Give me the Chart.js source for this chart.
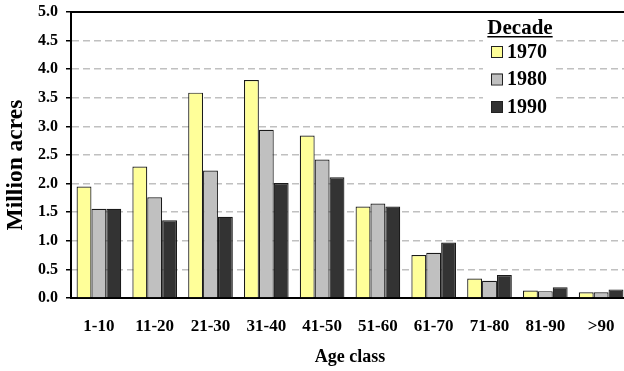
<!DOCTYPE html>
<html>
<head>
<meta charset="utf-8">
<script src="https://cdn.jsdelivr.net/npm/chart.js@4"></script>
<style>
  html, body { margin: 0; padding: 0; background: #fff; overflow: hidden; }
  #wrap { width: 632px; height: 371px; position: relative; }
</style>
</head>
<body>
<div id="wrap"><canvas id="c"></canvas></div>
<script>
const ageClasses = ['1-10', '11-20', '21-30', '31-40', '41-50', '51-60', '61-70', '71-80', '81-90', '>90'];
const decades = ['1970', '1980', '1990'];
const acres1970 = [1.95, 2.30, 3.59, 3.81, 2.84, 1.60, 0.75, 0.34, 0.13, 0.10];
const acres1980 = [1.56, 1.76, 2.23, 2.94, 2.42, 1.65, 0.79, 0.30, 0.12, 0.10];
const acres1990 = [1.56, 1.36, 1.42, 2.01, 2.11, 1.60, 0.97, 0.40, 0.19, 0.15];
const fills = ['#FFFF99', '#C0C0C0', '#333333'];
const yTitle = 'Million acres';

const serif = '"Liberation Serif", "Times New Roman", serif';

// Vertical axis title, boxed "Decade" legend and solid top border of the plot
const decorations = {
  id: 'decorations',
  afterDatasetsDraw(chart) {
    const { ctx, chartArea } = chart;
    ctx.save();

    // vertical axis title
    ctx.save();
    ctx.translate(16, 165);
    ctx.rotate(-Math.PI / 2);
    ctx.fillStyle = '#000';
    ctx.font = 'bold 23.5px ' + serif;
    ctx.textAlign = 'center';
    ctx.textBaseline = 'middle';
    ctx.fillText(yTitle, 0, 0);
    ctx.restore();

    // legend
    const lx = 483, ly = 16;
    ctx.fillStyle = '#fff';
    ctx.fillRect(lx, ly, 71, 100);
    ctx.fillStyle = '#000';
    ctx.font = 'bold 21px ' + serif;
    ctx.textBaseline = 'alphabetic';
    ctx.textAlign = 'left';
    const title = 'Decade';
    const tw = ctx.measureText(title).width;
    const tx = 520 - tw / 2;
    ctx.fillText(title, tx, 34);
    ctx.fillRect(tx, 36, tw, 1.5);
    ctx.font = 'bold 20px ' + serif;
    chart.data.datasets.forEach((ds, i) => {
      const cy = 51.5 + i * 27.5;
      ctx.fillStyle = ds.backgroundColor;
      ctx.fillRect(491, cy - 5.5, 11, 11);
      ctx.strokeStyle = '#222';
      ctx.lineWidth = 1;
      ctx.strokeRect(491.5, cy - 5, 11, 11);
      ctx.fillStyle = '#000';
      ctx.textBaseline = 'middle';
      ctx.fillText(ds.label, 507, cy + 1);
    });

    // top border
    ctx.strokeStyle = '#000';
    ctx.lineWidth = 2;
    ctx.beginPath();
    ctx.moveTo(chartArea.left, chartArea.top);
    ctx.lineTo(chartArea.right + 10, chartArea.top);
    ctx.stroke();
    ctx.restore();
  }
};

new Chart(document.getElementById('c'), {
  type: 'bar',
  data: {
    labels: ageClasses,
    datasets: [acres1970, acres1980, acres1990].map((vals, i) => ({
      label: decades[i],
      data: vals,
      backgroundColor: fills[i],
      borderColor: '#1a1a1a',
      borderWidth: 1.2,
      categoryPercentage: 0.8,
      barPercentage: 1.0
    }))
  },
  options: {
    responsive: true,
    maintainAspectRatio: false,
    animation: false,
    devicePixelRatio: 1,
    layout: { padding: { top: 12, right: 3, bottom: 3, left: 4 } },
    plugins: {
      legend: { display: false },
      tooltip: { enabled: false }
    },
    scales: {
      x: {
        grid: { display: false },
        border: { display: true, color: '#000', width: 2 },
        ticks: {
          color: '#000',
          padding: 10,
          font: { family: serif, size: 17, weight: 'bold' }
        },
        title: {
          display: true,
          text: 'Age class',
          color: '#000',
          padding: { top: 0, bottom: 0 },
          font: { family: serif, size: 18, weight: 'bold' }
        }
      },
      y: {
        min: 0,
        max: 5,
        afterFit(scale) {
          scale.width = 67;
          scale.paddingTop = 0;
          scale.paddingBottom = 0;
        },
        ticks: {
          stepSize: 0.5,
          color: '#000',
          padding: 8,
          callback: v => v.toFixed(1),
          font: { family: serif, size: 16, weight: 'bold' }
        },
        grid: {
          color: '#c0c0c0',
          lineWidth: 1.5,
          tickColor: '#000',
          tickLength: 5,
          tickWidth: 1.5
        },
        border: { display: true, color: '#000', width: 2, dash: [7, 4] },
        title: { display: false }
      }
    }
  },
  plugins: [decorations]
});
</script>
</body>
</html>
